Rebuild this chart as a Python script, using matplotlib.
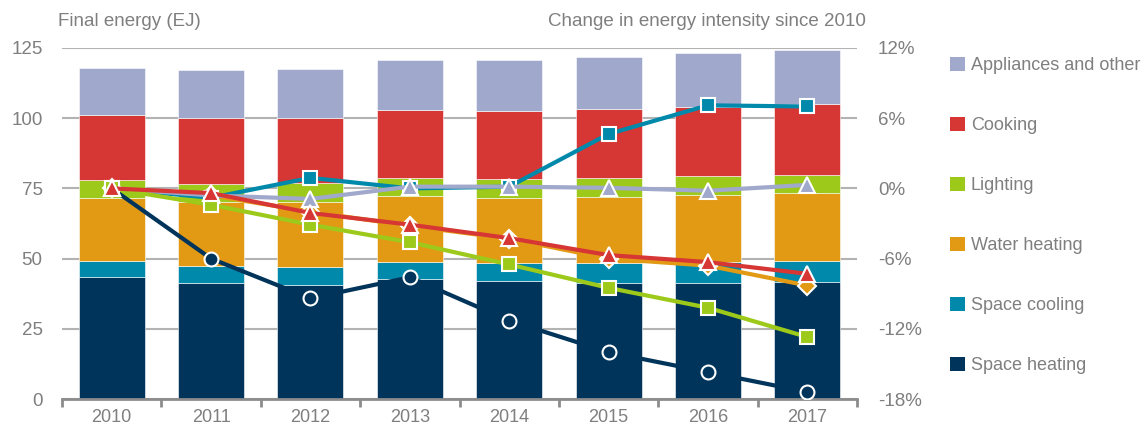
import matplotlib
matplotlib.use("Agg")
import matplotlib.pyplot as plt
import numpy as np
from matplotlib.patches import Patch

plt.rcParams['font.family'] = ['Liberation Sans', 'DejaVu Sans']

years = ['2010', '2011', '2012', '2013', '2014', '2015', '2016', '2017']

# Stacked bar values (EJ)
space_heating = [43.3, 41.4, 40.7, 42.6, 42.0, 41.4, 41.4, 41.7]
space_cooling = [5.8, 6.1, 6.4, 6.3, 6.3, 7.1, 7.4, 7.4]
water_heating = [22.6, 22.6, 22.9, 23.4, 23.4, 23.5, 24.0, 24.2]
lighting = [6.3, 6.4, 6.9, 6.5, 6.6, 6.7, 6.6, 6.5]
cooking = [23.1, 23.7, 23.3, 24.1, 24.3, 24.5, 24.7, 25.1]
appliances = [16.8, 16.9, 17.3, 17.8, 18.2, 18.6, 19.1, 19.4]

# Change in energy intensity since 2010 (%)
int_space_heating = [0.0, -6.0, -9.4, -7.6, -11.3, -14.0, -15.7, -17.4]
int_water_heating = [0.0, -0.6, -2.0, -3.2, -4.3, -6.0, -6.6, -8.3]
int_space_cooling = [0.0, -0.8, 0.9, 0.0, 0.15, 4.65, 7.1, 7.0]
int_appliances = [0.0, -0.6, -0.9, 0.15, 0.15, 0.05, -0.2, 0.3]
int_lighting = [0.0, -1.4, -3.1, -4.6, -6.5, -8.5, -10.2, -12.7]
int_cooking = [0.0, -0.4, -2.1, -3.1, -4.25, -5.7, -6.3, -7.3]

c_heat = '#00345a'
c_cool = '#0089aa'
c_water = '#e29a15'
c_light = '#9dca1a'
c_cook = '#d63634'
c_app = '#a0a9cb'
gray = '#7f7f7f'

fig = plt.figure(figsize=(11.47, 4.30), dpi=100)
ax = fig.add_axes([62/1147, 31/430, (857-62)/1147, (399-48)/430])
x = np.arange(len(years))
w = 0.665

series = [
    ('Space heating', space_heating, c_heat),
    ('Space cooling', space_cooling, c_cool),
    ('Water heating', water_heating, c_water),
    ('Lighting', lighting, c_light),
    ('Cooking', cooking, c_cook),
    ('Appliances and other', appliances, c_app),
]
bottom = np.zeros(len(years))
for name, vals, col in series:
    ax.bar(x, vals, w, bottom=bottom, color=col, edgecolor='white', linewidth=0.4, zorder=2)
    bottom += np.array(vals)

ax.set_xlim(-0.5, len(years) - 0.5)
ax.set_ylim(0, 125)
ax.set_yticks([0, 25, 50, 75, 100, 125])
ax.grid(axis='y', color='#b3b3b3', linewidth=1.5, zorder=0)
ax.set_axisbelow(True)
for s in ['top', 'right', 'left']:
    ax.spines[s].set_visible(False)
ax.spines['bottom'].set_color('#8c8c8c')
ax.spines['bottom'].set_linewidth(2)
ax.spines['bottom'].set_zorder(5)
ax.set_xticks(x)
ax.set_xticklabels(years)
ax.set_xticks(np.arange(-0.5, len(years), 1.0), minor=True)
ax.tick_params(axis='x', which='major', length=0, pad=7, labelsize=13, labelcolor=gray)
ax.tick_params(axis='x', which='minor', length=6, width=2, color='#8c8c8c', direction='out')
ax.tick_params(axis='y', length=0, pad=14, labelsize=13.5, labelcolor=gray)

ax2 = ax.twinx()
ax2.set_ylim(-18, 12)
ax2.set_yticks([-18, -12, -6, 0, 6, 12])
ax2.set_yticklabels([f'{t}%' for t in [-18, -12, -6, 0, 6, 12]])
for s in ax2.spines.values():
    s.set_visible(False)
ax2.tick_params(axis='y', length=0, pad=15, labelsize=13.5, labelcolor=gray)

lw = 3.0
ms = 10
ax2.plot(x, int_space_heating, color=c_heat, lw=lw, marker='o', ms=ms, mfc=c_heat, mec='white', mew=1.5, zorder=3)
ax2.plot(x, int_water_heating, color=c_water, lw=lw, marker='D', ms=ms-1, mfc=c_water, mec='white', mew=1.5, zorder=3)
ax2.plot(x, int_space_cooling, color=c_cool, lw=lw, marker='s', ms=ms, mfc=c_cool, mec='white', mew=1.5, zorder=3)
ax2.plot(x, int_appliances, color=c_app, lw=lw, marker='^', ms=ms+1, mfc=c_app, mec='white', mew=1.5, zorder=3)
ax2.plot(x, int_lighting, color=c_light, lw=lw, marker='s', ms=ms, mfc=c_light, mec='white', mew=1.5, zorder=3)
ax2.plot(x, int_cooking, color=c_cook, lw=lw, marker='^', ms=ms+1, mfc=c_cook, mec='white', mew=1.5, zorder=3)

fig.text(58/1147, 1 - 22/430, 'Final energy (EJ)', color=gray, fontsize=13.5, va='center', ha='left')
fig.text(866/1147, 1 - 22/430, 'Change in energy intensity since 2010', color=gray, fontsize=13.5, va='center', ha='right')

handles = [Patch(facecolor=col, edgecolor='none', label=name) for name, vals, col in series][::-1]
leg = fig.legend(handles=handles, loc='upper left', bbox_to_anchor=(943/1147, 1 - 50/430),
                 frameon=False, fontsize=13, labelcolor=gray, handlelength=0.8, handleheight=0.8,
                 handletextpad=0.35, labelspacing=2.37, borderaxespad=0)

fig.savefig('out.png', dpi=100)
